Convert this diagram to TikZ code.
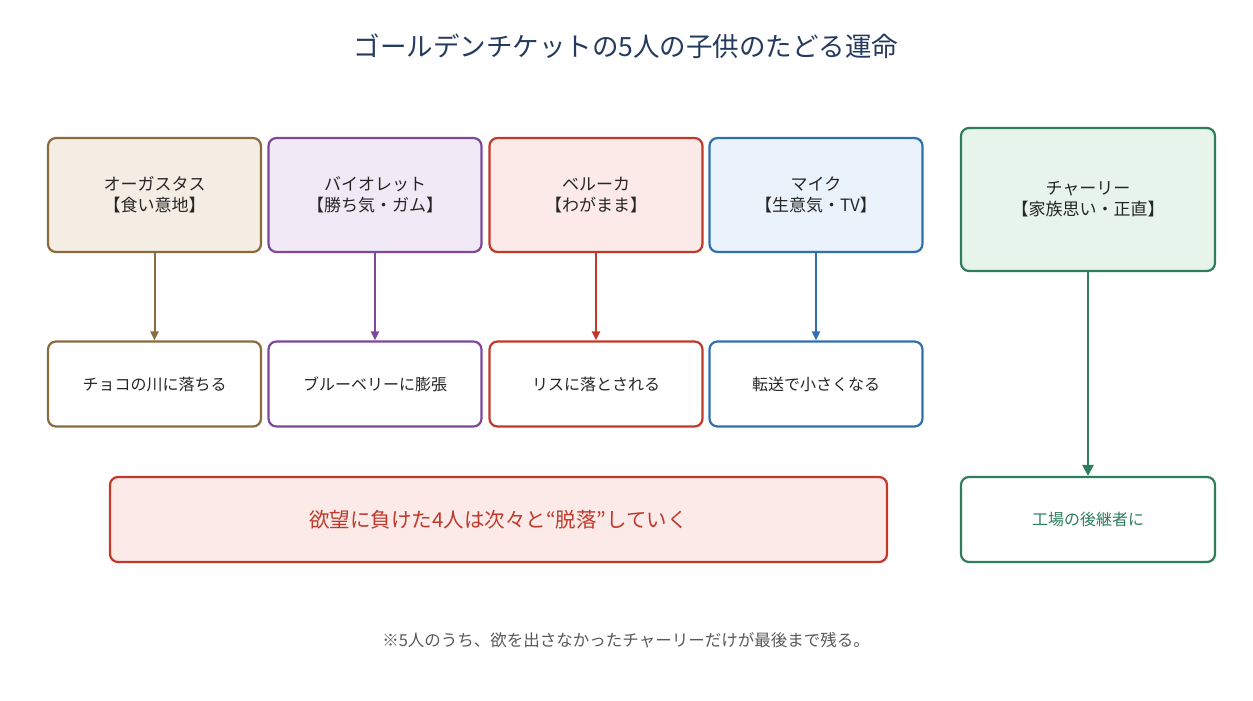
\documentclass[tikz,border=0pt]{standalone}
\usepackage{fontspec}
\setmainfont{Noto Sans CJK JP}
\usetikzlibrary{arrows.meta}
\definecolor{cbrown}{HTML}{8B6A3E}\definecolor{fbrown}{HTML}{F3EDE3}
\definecolor{cpurple}{HTML}{7D479C}\definecolor{fpurple}{HTML}{F1EAF6}
\definecolor{cred}{HTML}{C0392B}\definecolor{fred}{HTML}{FBEAE8}
\definecolor{cblue}{HTML}{2F6EAF}\definecolor{fblue}{HTML}{EAF2FB}
\definecolor{cgreen}{HTML}{2E7D5B}\definecolor{fgreen}{HTML}{E7F4EC}
\definecolor{ctitle}{HTML}{243A5E}
\tikzset{every picture/.style={line width=0.75pt}}
\tikzset{
  kid/.style={draw=#1,line width=2.2pt,rounded corners=8pt,minimum width=213pt,minimum height=114pt,align=center,font=\fontsize{17}{21}\selectfont,text=black!85},
  fate/.style={draw=#1,fill=white,line width=2.2pt,rounded corners=8pt,minimum width=213pt,minimum height=85pt,align=center,font=\fontsize{16}{19}\selectfont,text=black!85},
  flow/.style={draw=#1,line width=2pt,-{Triangle[length=9pt,width=8pt]}}
}
\begin{document}
\begin{tikzpicture}[x=1pt,y=-1pt]
\useasboundingbox (0,0) rectangle (1253,701);
%title
\node[font=\fontsize{26.5}{30}\selectfont,text=ctitle] (title) at (626,46) {ゴールデンチケットの5人の子供のたどる運命};
%children
\node[kid=cbrown,fill=fbrown] (aug) at (154.5,195) {オーガスタス\\【食い意地】};
\node[kid=cpurple,fill=fpurple] (vio) at (375,195) {バイオレット\\【勝ち気・ガム】};
\node[kid=cred,fill=fred] (ver) at (596,195) {ベルーカ\\【わがまま】};
\node[kid=cblue,fill=fblue] (mik) at (816,195) {マイク\\【生意気・TV】};
\node[kid=cgreen,fill=fgreen,minimum width=254pt,minimum height=143pt] (cha) at (1088,199.5) {チャーリー\\【家族思い・正直】};
%fates
\node[fate=cbrown] (augf) at (154.5,384) {チョコの川に落ちる};
\node[fate=cpurple] (viof) at (375,384) {ブルーベリーに膨張};
\node[fate=cred] (verf) at (596,384) {リスに落とされる};
\node[fate=cblue] (mikf) at (816,384) {転送で小さくなる};
\node[fate=cgreen,minimum width=254pt,text=cgreen] (chaf) at (1088,519.5) {工場の後継者に};
%arrows
\draw[flow=cbrown] (aug) -- (augf);
\draw[flow=cpurple] (vio) -- (viof);
\draw[flow=cred] (ver) -- (verf);
\draw[flow=cblue] (mik) -- (mikf);
\draw[flow=cgreen,line width=2.8pt,-{Triangle[length=11pt,width=11pt]}] (cha) -- (chaf);
%summary
\node[draw=cred,fill=fred,line width=2.2pt,rounded corners=8pt,minimum width=777pt,minimum height=85pt,text=cred,font=\fontsize{20.5}{24}\selectfont] (sum) at (498.5,519.5) {欲望に負けた4人は次々と“脱落”していく};
\node[text=black!65,font=\fontsize{16.5}{19}\selectfont] (note) at (626,640) {※5人のうち、欲を出さなかったチャーリーだけが最後まで残る。};
\end{tikzpicture}
\end{document}
